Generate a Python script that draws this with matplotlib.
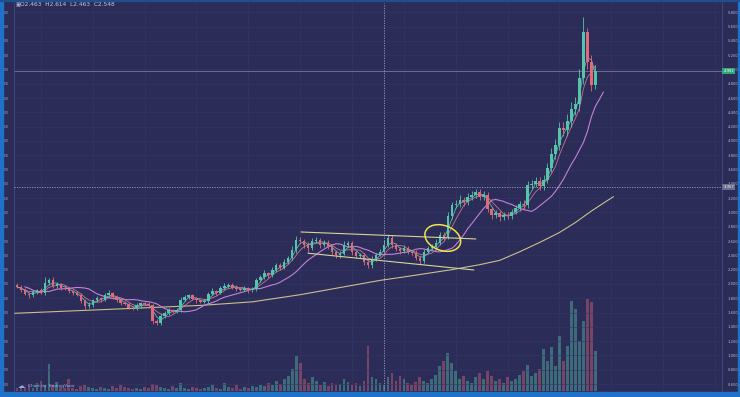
import numpy as np
import pandas as pd
import matplotlib
matplotlib.use("Agg")
import matplotlib.pyplot as plt
from matplotlib.patches import Ellipse, Rectangle
import matplotlib.transforms as mtransforms

# ---------------- data ----------------
first_open = 1.98
closes = [
    1.96, 1.92, 1.86, 1.84, 1.89, 1.91, 1.88, 2.02, 2.06, 1.97,
    2.00, 1.95, 1.93, 1.90, 1.87, 1.85, 1.76, 1.69, 1.71, 1.77,
    1.80, 1.78, 1.84, 1.87, 1.82, 1.77, 1.74, 1.72, 1.67, 1.66,
    1.70, 1.73, 1.72, 1.70, 1.48, 1.45, 1.55, 1.60, 1.63, 1.61,
    1.64, 1.78, 1.82, 1.84, 1.79, 1.77, 1.75, 1.76, 1.86, 1.90,
    1.88, 1.94, 1.97, 1.99, 1.95, 1.93, 1.92, 1.94, 1.91, 1.93,
    2.05, 2.10, 2.15, 2.12, 2.20, 2.27, 2.23, 2.31, 2.36, 2.48,
    2.62, 2.60, 2.55, 2.50, 2.60, 2.62, 2.55, 2.58, 2.52, 2.45,
    2.40, 2.42, 2.55, 2.57, 2.45, 2.39, 2.41, 2.31, 2.26, 2.35,
    2.41, 2.45, 2.55, 2.64, 2.55, 2.49, 2.46, 2.50, 2.45, 2.44,
    2.37, 2.32, 2.45, 2.50, 2.52, 2.58, 2.68, 2.66, 2.95, 3.10,
    3.12, 3.18, 3.14, 3.22, 3.25, 3.29, 3.22, 3.25, 3.05, 2.96,
    2.99, 2.93, 2.97, 2.95, 3.01, 3.06, 3.12, 3.10, 3.38, 3.40,
    3.44, 3.37, 3.46, 3.62, 3.82, 3.95, 4.18, 4.15, 4.28, 4.45,
    4.52, 4.88, 5.52, 5.10, 4.78, 4.98,
]
wick_up = [
    0.03, 0.02, 0.03, 0.02, 0.03, 0.02, 0.04, 0.08, 0.03, 0.04,
    0.03, 0.02, 0.03, 0.02, 0.02, 0.03, 0.02, 0.03, 0.04, 0.02,
    0.03, 0.02, 0.03, 0.04, 0.02, 0.02, 0.03, 0.02, 0.03, 0.02,
    0.03, 0.02, 0.02, 0.03, 0.02, 0.03, 0.04, 0.02, 0.03, 0.02,
    0.03, 0.04, 0.03, 0.02, 0.02, 0.03, 0.02, 0.03, 0.03, 0.04,
    0.02, 0.03, 0.04, 0.03, 0.02, 0.03, 0.02, 0.03, 0.02, 0.03,
    0.04, 0.03, 0.04, 0.02, 0.04, 0.03, 0.03, 0.04, 0.03, 0.05,
    0.05, 0.04, 0.03, 0.04, 0.05, 0.04, 0.03, 0.04, 0.03, 0.03,
    0.03, 0.04, 0.05, 0.03, 0.03, 0.02, 0.03, 0.03, 0.02, 0.04,
    0.03, 0.04, 0.06, 0.05, 0.04, 0.03, 0.03, 0.04, 0.03, 0.02,
    0.03, 0.02, 0.04, 0.03, 0.04, 0.05, 0.05, 0.04, 0.06, 0.05,
    0.05, 0.06, 0.04, 0.05, 0.05, 0.04, 0.04, 0.05, 0.04, 0.03,
    0.04, 0.03, 0.04, 0.03, 0.04, 0.05, 0.04, 0.05, 0.06, 0.05,
    0.06, 0.05, 0.06, 0.07, 0.08, 0.08, 0.09, 0.08, 0.10, 0.09,
    0.10, 0.12, 0.21, 0.06, 0.10, 0.08,
]
wick_dn = [
    0.02, 0.03, 0.02, 0.03, 0.02, 0.03, 0.02, 0.03, 0.04, 0.03,
    0.02, 0.03, 0.02, 0.03, 0.02, 0.02, 0.03, 0.04, 0.02, 0.03,
    0.02, 0.03, 0.02, 0.02, 0.03, 0.02, 0.03, 0.02, 0.02, 0.03,
    0.02, 0.03, 0.02, 0.03, 0.04, 0.03, 0.03, 0.02, 0.03, 0.02,
    0.02, 0.03, 0.02, 0.03, 0.02, 0.03, 0.02, 0.02, 0.03, 0.02,
    0.03, 0.02, 0.02, 0.03, 0.02, 0.03, 0.02, 0.02, 0.03, 0.02,
    0.03, 0.02, 0.03, 0.04, 0.02, 0.03, 0.04, 0.02, 0.03, 0.03,
    0.04, 0.03, 0.04, 0.05, 0.03, 0.03, 0.04, 0.03, 0.03, 0.04,
    0.04, 0.03, 0.02, 0.03, 0.04, 0.03, 0.03, 0.04, 0.04, 0.03,
    0.03, 0.02, 0.00, 0.03, 0.04, 0.03, 0.04, 0.03, 0.03, 0.04,
    0.04, 0.04, 0.03, 0.02, 0.03, 0.04, 0.03, 0.04, 0.03, 0.04,
    0.04, 0.05, 0.05, 0.04, 0.04, 0.05, 0.05, 0.04, 0.05, 0.05,
    0.04, 0.05, 0.04, 0.04, 0.04, 0.03, 0.04, 0.05, 0.04, 0.05,
    0.05, 0.06, 0.05, 0.05, 0.06, 0.07, 0.08, 0.08, 0.08, 0.09,
    0.09, 0.10, 0.08, 0.10, 0.08, 0.05,
]
volume = [
    3, 5, 4, 6, 3, 8, 10, 6, 27, 7,
    9, 4, 3, 12, 3, 2, 5, 6, 4, 3,
    2, 4, 3, 2, 5, 3, 6, 4, 3, 2,
    3, 2, 4, 3, 7, 6, 4, 3, 2, 5,
    3, 8, 3, 2, 4, 3, 2, 3, 4, 6,
    3, 2, 8, 4, 3, 6, 2, 4, 3, 5,
    4, 6, 5, 8, 6, 10, 7, 12, 15, 22,
    35, 28, 12, 8, 14, 10, 6, 9, 5, 8,
    6, 7, 12, 9, 6, 8, 5, 10, 45, 14,
    12, 8, 6, 14, 18, 10, 15, 12, 8, 6,
    9, 14, 10, 8, 12, 16, 25, 30, 38, 28,
    20, 12, 15, 10, 8, 14, 18, 12, 20, 15,
    10, 12, 8, 14, 10, 12, 16, 20, 26, 15,
    18, 22, 42, 30, 44, 25, 55, 30, 45, 90,
    82, 50, 70, 92, 89, 40,
]
# long moving average (drawn as shown, extends beyond the last candle)
long_ma_x = [-0.5, 21, 46, 59, 71, 84, 91, 96, 109, 116, 121, 126, 131, 136, 140, 144, 147, 149.5]
long_ma_p = [1.59, 1.64, 1.70, 1.75, 1.85, 1.98, 2.05, 2.09, 2.20, 2.27, 2.33, 2.45, 2.58, 2.72, 2.86, 3.02, 3.13, 3.22]
# hand-drawn trend lines
upper_line_x = [71.25, 115.0]
upper_line_p = [2.727, 2.63]
lower_line_x = [73.0, 114.5]
lower_line_p = [2.43, 2.196]
circle_center = (106.75, 2.643)
price_ticks = [0.6, 0.8, 1.0, 1.2, 1.4, 1.6, 1.8, 2.0, 2.2, 2.4, 2.6, 2.8, 3.0, 3.2,
               3.4, 3.6, 3.8, 4.0, 4.2, 4.4, 4.6, 4.8, 5.0, 5.2, 5.4, 5.6, 5.8]
last_price = 4.981
cross_index = 92
cross_price = 3.357
header_labels = ["O", "H", "L", "C"]
header_values = [2.463, 2.614, 2.463, 2.548]

# ---------------- style ----------------
BG = "#2b2c57"
BLUE = "#1f72c9"
UP = "#56c4aa"
DN = "#e06a7a"
GRID = "#33356a"
TXT = "#b9bbd3"

W, H = 740, 397
fig = plt.figure(figsize=(W / 100, H / 100), dpi=100)
fig.patch.set_facecolor(BG)
pos = [14 / W, 6 / H, (722 - 14) / W, (391 - 3) / H]

axv = fig.add_axes(pos)
axv.set_facecolor(BG)
ax = fig.add_axes(pos, sharex=axv)
ax.patch.set_visible(False)

c = np.array(closes)
o = np.concatenate([[first_open], c[:-1]])
hi = np.maximum(o, c) + np.array(wick_up)
lo = np.minimum(o, c) - np.array(wick_dn)
idx = np.arange(len(c))
up = c >= o
cols = np.where(up, UP, DN)

# volume
axv.bar(idx, volume, width=0.7, color=cols, alpha=0.42, linewidth=0, zorder=2)
axv.set_ylim(0, 388)
for xv in range(6, 176, 13):
    axv.axvline(xv, color=GRID, lw=0.5, zorder=0)
axv.set_xticks([])
axv.set_yticks([])
for s in axv.spines.values():
    s.set_visible(False)

# grid
for t in price_ticks:
    ax.axhline(t, color=GRID, lw=0.4, zorder=0)

# moving averages
s = pd.Series(closes)
ax.plot(long_ma_x, long_ma_p, color="#c9c08c", lw=0.8, zorder=3)
ax.plot(idx + 2, s.rolling(10, min_periods=1).mean(), color="#c680d8", lw=0.8, zorder=3)
ax.plot(idx, s.rolling(5, min_periods=1).mean(), color="#e07898", lw=0.6, alpha=0.9, zorder=3)
ax.plot(idx, s.rolling(3, min_periods=1).mean(), color="#5fcbb8", lw=0.6, alpha=0.9, zorder=3)

# candles
ax.vlines(idx, lo, hi, colors=cols, lw=0.6, zorder=4)
ax.bar(idx, np.maximum(np.abs(c - o), 0.008), bottom=np.minimum(o, c), width=0.62,
       color=cols, linewidth=0, zorder=5)

# trend lines and circle
ax.plot(upper_line_x, upper_line_p, color="#d9d49a", lw=0.8, zorder=6)
ax.plot(lower_line_x, lower_line_p, color="#d9d49a", lw=0.8, zorder=6)
trans = fig.dpi_scale_trans + mtransforms.ScaledTranslation(circle_center[0], circle_center[1], ax.transData)
ax.add_patch(Ellipse((0, 0), 0.37, 0.25, angle=-20, transform=trans, fill=False,
                     ec="#f0e44c", lw=1.1, zorder=7))

# last price line and crosshair
ax.axhline(last_price, color="#8f87a8", lw=0.6, alpha=0.8, zorder=2)
ax.axvline(cross_index, color="#9c9ec0", lw=0.6, ls=(0, (1.5, 1.5)), zorder=8)
ax.axhline(cross_price, color="#9c9ec0", lw=0.6, ls=(0, (1.5, 1.5)), zorder=8)

ax.set_xlim(-0.75, 176.75)
ax.set_ylim(0.503, 5.93)
ax.set_yticks(price_ticks)
ax.set_yticklabels([f"{t:.3f}" for t in price_ticks])
ax.tick_params(axis="y", left=False, right=False, labelleft=True, labelright=True,
               labelcolor=TXT, pad=0.4)
for tk in ax.yaxis.get_major_ticks():
    tk.label1.set_fontsize(2.2)
    tk.label2.set_fontsize(2.7)
ax.tick_params(axis="x", bottom=False, labelbottom=False)
for k in ["top", "bottom"]:
    ax.spines[k].set_visible(False)
for k in ["left", "right"]:
    ax.spines[k].set_color("#4a4c80")
    ax.spines[k].set_linewidth(0.6)

bt = mtransforms.blended_transform_factory(ax.transAxes, ax.transData)
ax.text(1.002, last_price, f"{last_price:.3f}", transform=bt, fontsize=2.7, color="white",
        va="center", ha="left", zorder=10, clip_on=False,
        bbox=dict(boxstyle="square,pad=0.25", fc="#2fa97a", ec="none"))
ax.text(1.002, cross_price, f"{cross_price:.3f}", transform=bt, fontsize=2.7, color="white",
        va="center", ha="left", zorder=10, clip_on=False,
        bbox=dict(boxstyle="square,pad=0.25", fc="#6b6d8e", ec="none"))

# header
header = "  ".join(f"{l}{v:.3f}" for l, v in zip(header_labels, header_values))
fig.text(16 / W, 1 - 5 / H, "\u25a3", fontsize=3.8, color=TXT, va="center", ha="left")
fig.text(20.5 / W, 1 - 5 / H, header, fontsize=4.2, color="#c8cadf", va="center", ha="left")

# watermark
fig.text(18 / W, 1 - 386 / H, "\u2601", fontsize=5, color="#7fb0e6", va="center", ha="left", zorder=20)
fig.text(28 / W, 1 - 386 / H, "Chart by TradingView", fontsize=3.2, color="#8fb7e8",
         va="center", ha="left", zorder=20)

# frame borders
fig.patches.append(Rectangle((0, 0), 2.5 / W, 1, transform=fig.transFigure, color=BLUE, zorder=15))
fig.patches.append(Rectangle((737.5 / W, 0), 2.5 / W, 1, transform=fig.transFigure, color=BLUE, zorder=15))
fig.patches.append(Rectangle((0, 0), 1, 5 / H, transform=fig.transFigure, color=BLUE, zorder=15))
fig.patches.append(Rectangle((0, 1 - 1 / H), 1, 1 / H, transform=fig.transFigure, color="#1d4f8f", zorder=15))

fig.savefig("out.png", dpi=100, facecolor=BG)
